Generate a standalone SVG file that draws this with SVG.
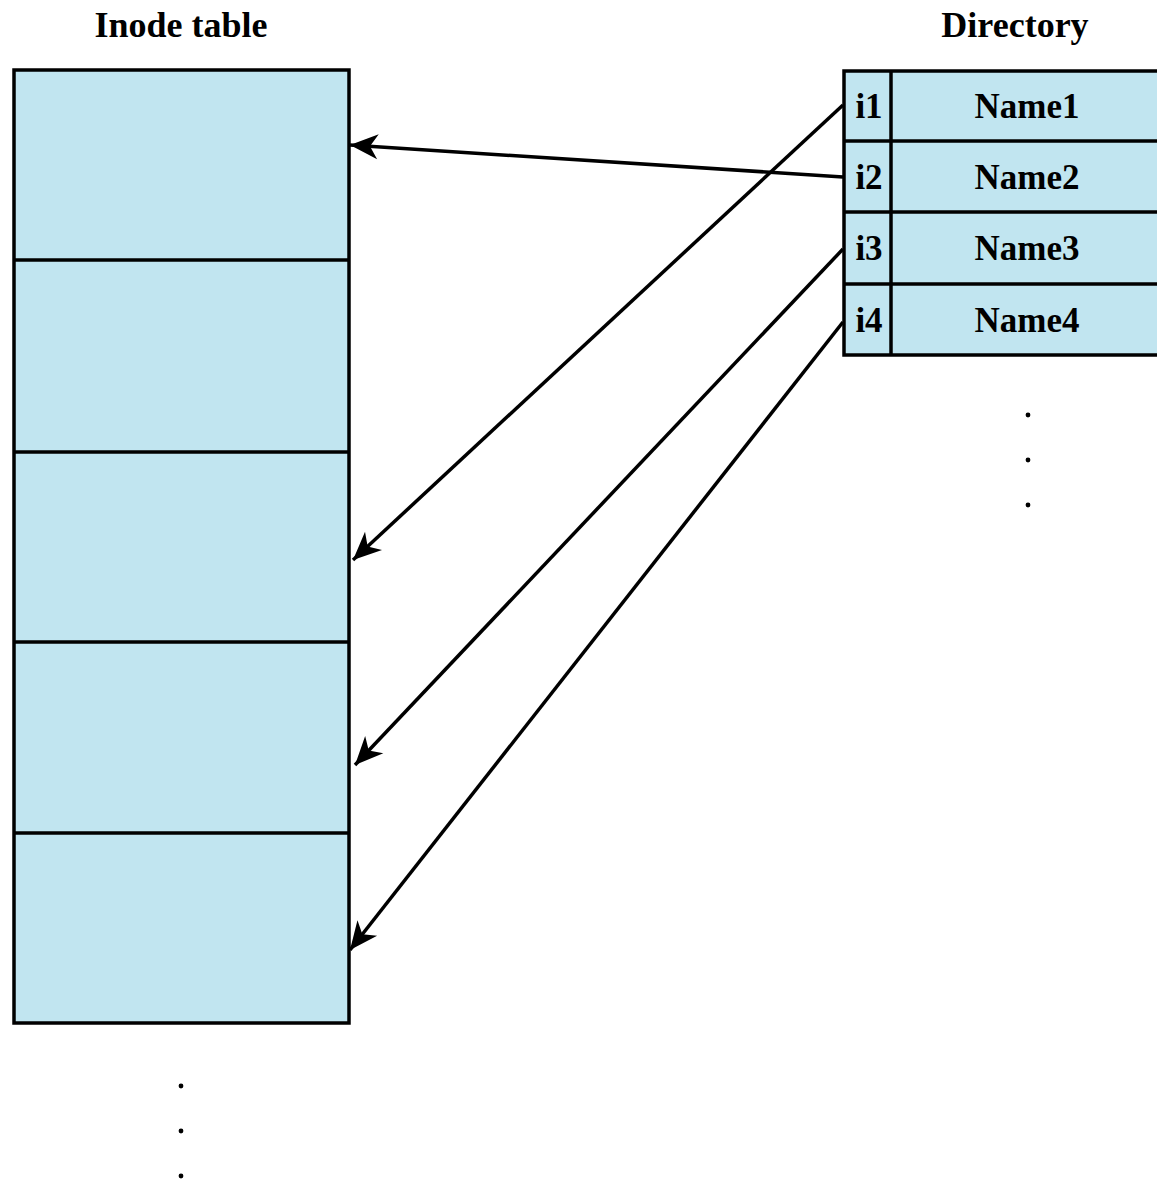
<svg xmlns="http://www.w3.org/2000/svg" width="1157" height="1182" viewBox="0 0 1157 1182">
<style>
.cell{fill:#C1E5F0;stroke:#000;stroke-width:3.5}
.ln{stroke:#000;stroke-width:3.5;fill:none}
.t{font-family:"Liberation Serif","Times New Roman",serif;font-weight:bold;fill:#000;text-anchor:middle}
.h{font-size:36px}
.n{font-size:35px}
.conn{stroke:#000;stroke-width:3.5;fill:none;marker-end:url(#ah)}
</style>
<defs>
<marker id="ah" markerUnits="userSpaceOnUse" viewBox="-30 -14 32 28" markerWidth="32" markerHeight="28" refX="0" refY="0" orient="auto">
<path d="M0,0 L-28,-12.5 L-20,0 L-28,12.5 Z" fill="#000"/>
</marker>
</defs>
<rect width="1157" height="1182" fill="#fff"/>
<g id="inode-table">
<text class="t h" x="181" y="37">Inode table</text>
<rect class="cell" x="14" y="70" width="335" height="953"/>
<line class="ln" x1="14" y1="260" x2="349" y2="260"/>
<line class="ln" x1="14" y1="452" x2="349" y2="452"/>
<line class="ln" x1="14" y1="642" x2="349" y2="642"/>
<line class="ln" x1="14" y1="833" x2="349" y2="833"/>
<circle cx="181" cy="1086" r="2.4" fill="#000"/>
<circle cx="181" cy="1131" r="2.4" fill="#000"/>
<circle cx="181" cy="1176" r="2.4" fill="#000"/>
</g>
<g id="directory">
<text class="t h" x="1015" y="37">Directory</text>
<rect class="cell" x="844" y="71" width="330" height="284"/>
<line class="ln" x1="844" y1="141" x2="1174" y2="141"/>
<line class="ln" x1="844" y1="212" x2="1174" y2="212"/>
<line class="ln" x1="844" y1="284" x2="1174" y2="284"/>
<line class="ln" x1="891" y1="71" x2="891" y2="355"/>
<text class="t n" x="869" y="118">i1</text>
<text class="t n" x="1027" y="118">Name1</text>
<text class="t n" x="869" y="189">i2</text>
<text class="t n" x="1027" y="189">Name2</text>
<text class="t n" x="869" y="260">i3</text>
<text class="t n" x="1027" y="260">Name3</text>
<text class="t n" x="869" y="332">i4</text>
<text class="t n" x="1027" y="332">Name4</text>
<circle cx="1028" cy="415" r="2.4" fill="#000"/>
<circle cx="1028" cy="460" r="2.4" fill="#000"/>
<circle cx="1028" cy="505" r="2.4" fill="#000"/>
</g>
<g id="connectors">
<line class="conn" x1="843" y1="105" x2="353" y2="560"/>
<line class="conn" x1="843" y1="177" x2="350" y2="145"/>
<line class="conn" x1="843" y1="249" x2="355" y2="765"/>
<line class="conn" x1="843" y1="322" x2="350" y2="950"/>
</g>
</svg>
